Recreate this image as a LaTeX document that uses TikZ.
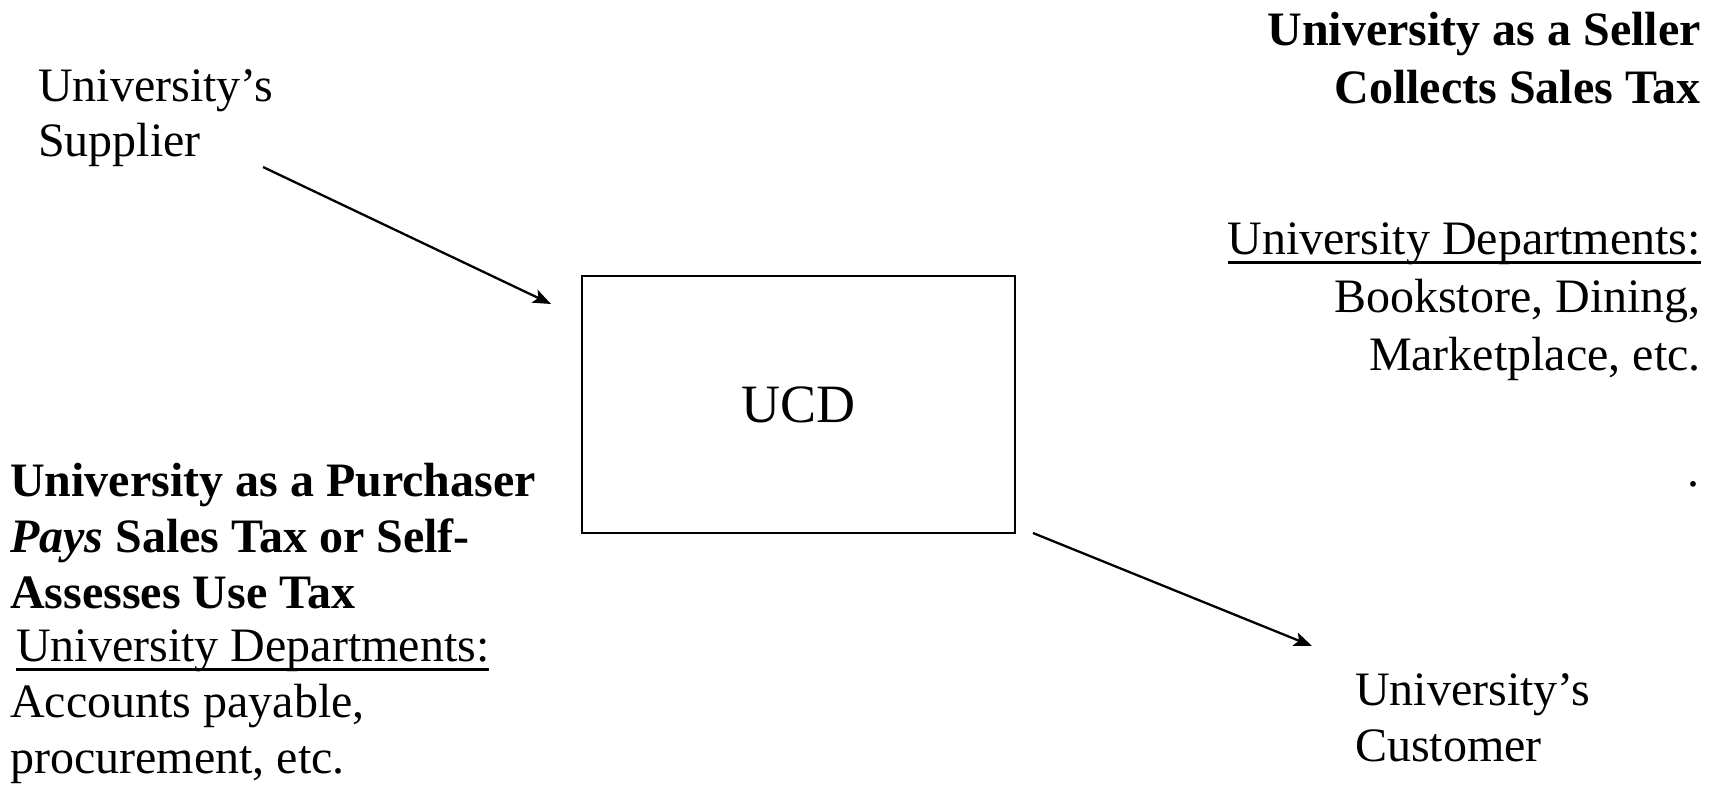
\documentclass[tikz,border=0pt]{standalone}
\usepackage{fontspec}
\setmainfont{Liberation Serif}
\usetikzlibrary{arrows.meta}

\newsavebox{\ulinebox}
\newcommand{\ulinetext}[1]{\sbox{\ulinebox}{#1}\rlap{\rule[-9.5pt]{\wd\ulinebox}{2.5pt}}\usebox{\ulinebox}}

\tikzset{
  plaintext/.style={inner sep=0pt, font=\fontsize{48}{56}\selectfont},
  boldtext/.style={plaintext, font=\fontsize{48}{56}\selectfont\bfseries},
  ucdbox/.style={draw, line width=2pt, minimum width=433pt, minimum height=257pt,
    font=\fontsize{54}{60}\selectfont},
  flow/.style={line width=2.3pt, -{Stealth[length=18pt,width=14pt,inset=4pt]}},
}

\begin{document}
\begin{tikzpicture}[x=1pt, y=-1pt]
\useasboundingbox (0,0) rectangle (1719,789);

\node[ucdbox] (ucd) at (798.5,404.5) {UCD};

% supplier side (anchors sit on the last baseline)
\node[plaintext, anchor=base west, align=left, font=\fontsize{48}{55}\selectfont] (supplier) at (38,157) {University's\\Supplier};
\node[boldtext, anchor=base west, align=left] (purchaser) at (10,608)
  {University as a Purchaser\\\textit{Pays} Sales Tax or Self-\\Assesses Use Tax};
\node[plaintext, anchor=base west, align=left] (buydepts) at (10,773)
  {\hspace{6pt}\ulinetext{University Departments:}\\Accounts payable,\\procurement, etc.};

% customer side
\node[boldtext, anchor=base east, align=right, font=\fontsize{48}{58}\selectfont\bfseries] (seller) at (1701,104)
  {University as a Seller\\Collects Sales Tax};
\node[plaintext, anchor=base east, align=right, font=\fontsize{48}{58}\selectfont] (selldepts) at (1701,370)
  {\ulinetext{University Departments:}\\Bookstore, Dining,\\Marketplace, etc.};
\node[plaintext, anchor=base east] (dot) at (1700,486) {.};
\node[plaintext, anchor=base west, align=left] (customer) at (1355,761) {University's\\Customer};

\coordinate (supplier-tail) at (263,167);
\coordinate (supplier-tip) at (551,304);
\coordinate (customer-tail) at (1033,533);
\coordinate (customer-tip) at (1312,646);

\draw[flow] (supplier-tail) -- (supplier-tip);
\draw[flow] (customer-tail) -- (customer-tip);
\end{tikzpicture}
\end{document}
